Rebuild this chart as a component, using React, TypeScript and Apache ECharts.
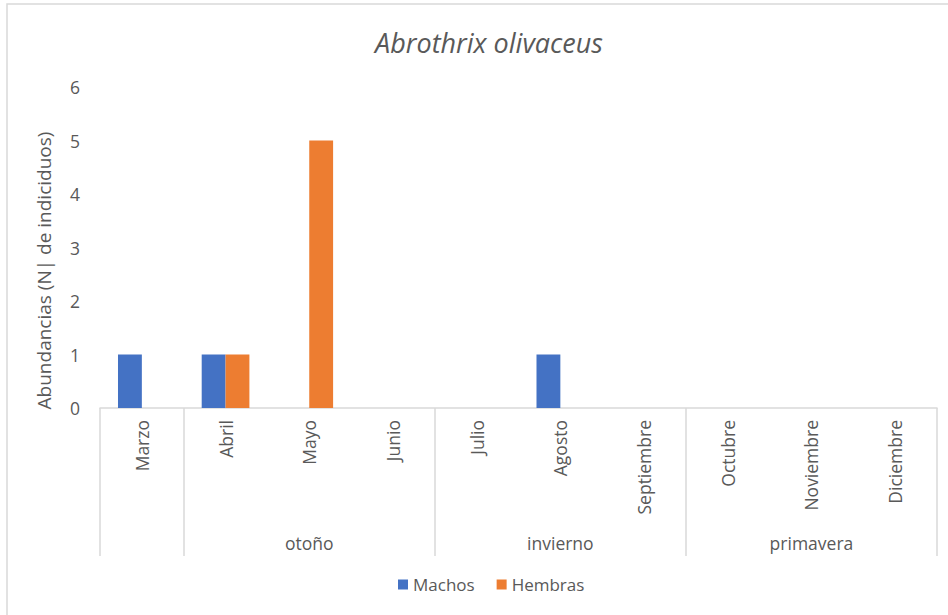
import React, { useEffect, useRef } from "react";
import * as echarts from "echarts";

const months = ["Marzo", "Abril", "Mayo", "Junio", "Julio", "Agosto", "Septiembre", "Octubre", "Noviembre", "Diciembre"];
const machos = [1, 1, 0, 0, 0, 1, 0, 0, 0, 0];
const hembras = [0, 1, 5, 0, 0, 0, 0, 0, 0, 0];
const seasonNames = ["otoño", "invierno", "primavera"];
const seasonBounds = [0, 1, 4, 7, 10];
const seasonCenters = [2.5, 5.5, 8.5];
const yTicks = [0, 1, 2, 3, 4, 5, 6];

const FONT = "'Open Sans', 'Noto Sans', sans-serif";
const GRAY = "#595959";
const LINE = "#D9D9D9";

export default function App() {
  const ref = useRef<HTMLDivElement>(null);
  useEffect(() => {
    if (!ref.current) return;
    const chart = echarts.init(ref.current, undefined, { renderer: "svg" });
    chart.setOption({
      animation: false,
      textStyle: { fontFamily: FONT },
      title: {
        text: "Abrothrix olivaceus",
        left: 484,
        top: 24,
        textAlign: "center",
        textStyle: { fontFamily: FONT, fontStyle: "italic", fontWeight: "normal", fontSize: 27, color: GRAY },
      },
      graphic: [
        { type: "rect", shape: { x: 7, y: 4, width: 960, height: 640 }, style: { fill: "none", stroke: LINE, lineWidth: 1.5 }, silent: true, z: -1 },
      ],
      legend: {
        bottom: 17,
        left: 393,
        icon: "rect",
        itemWidth: 10,
        itemHeight: 10,
        itemGap: 22,
        textStyle: { fontFamily: FONT, fontSize: 17, color: GRAY },
        data: ["Machos", "Hembras"],
      },
      grid: { left: 100, right: 11, top: 87, bottom: 207, containLabel: false },
      xAxis: [
        {
          type: "category",
          data: months,
          axisLine: { show: true, lineStyle: { color: LINE, width: 1.5 } },
          axisTick: { show: false },
          axisLabel: { rotate: 90, margin: 12, fontFamily: FONT, fontSize: 17.5, color: GRAY, interval: 0 },
        },
        {
          type: "value",
          min: 0,
          max: 10,
          position: "bottom",
          axisLine: { show: false },
          splitLine: { show: false },
          axisTick: { show: true, length: 148, customValues: seasonBounds, lineStyle: { color: LINE, width: 1.5 } },
          axisLabel: {
            customValues: seasonCenters,
            margin: 126,
            fontFamily: FONT,
            fontSize: 17.5,
            color: GRAY,
            formatter: (v: number) => seasonNames[seasonCenters.indexOf(v)] ?? "",
          },
        },
      ],
      yAxis: {
        type: "value",
        min: 0,
        max: 6,
        interval: 1,
        name: "Abundancias (N| de indiciduos)",
        nameLocation: "middle",
        nameGap: 47,
        nameTextStyle: { fontFamily: FONT, fontSize: 19, color: GRAY, padding: [0, 46, 0, 0] },
        axisLine: { show: false },
        axisTick: { show: false },
        splitLine: { show: false },
        axisLabel: { margin: 20, fontFamily: FONT, fontSize: 17.5, color: GRAY, customValues: yTicks },
      },
      series: [
        { name: "Machos", type: "bar", data: machos, itemStyle: { color: "#4472C4" }, barGap: "0%", barCategoryGap: "43%" },
        { name: "Hembras", type: "bar", data: hembras, itemStyle: { color: "#ED7D31" }, barGap: "0%", barCategoryGap: "43%" },
      ],
    });
    return () => chart.dispose();
  }, []);
  return <div ref={ref} style={{ position: "fixed", left: 0, top: 0, width: 948, height: 615, background: "#fff" }} />;
}
